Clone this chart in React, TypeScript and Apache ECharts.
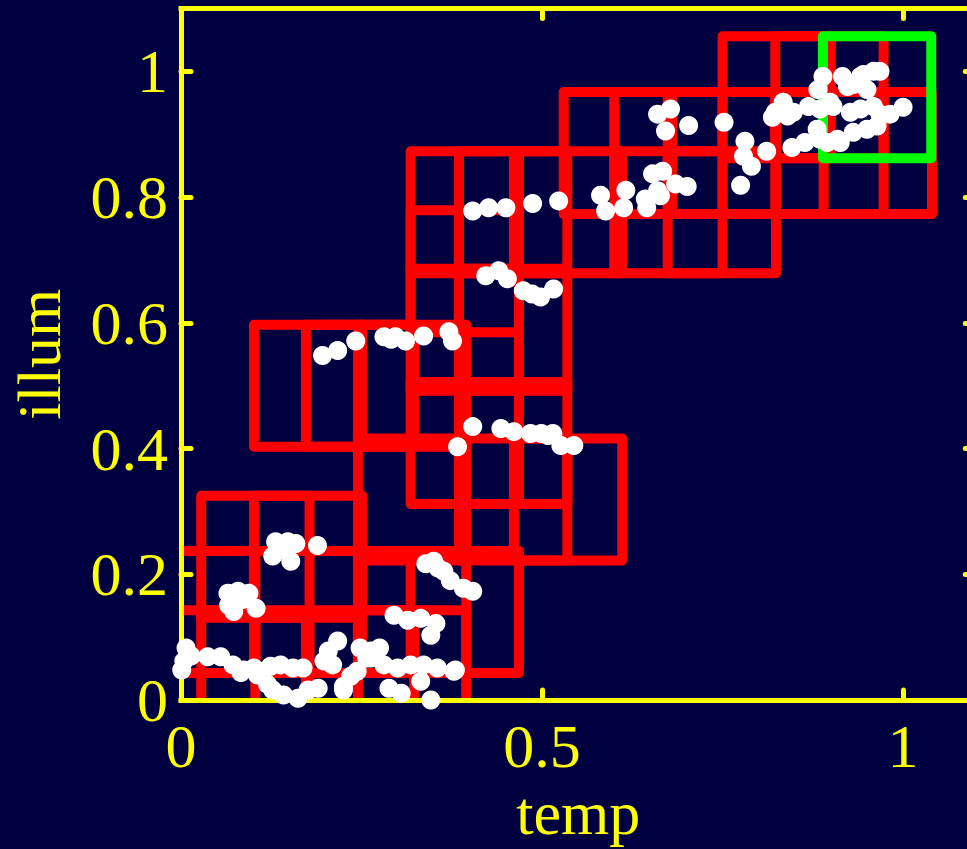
import React, { useEffect, useRef } from "react";
import * as echarts from "echarts";

// ---- axis content ----
const X_TICKS = [0, 0.5, 1];
const Y_TICKS = [0, 0.2, 0.4, 0.6, 0.8, 1];
const X_NAME = "temp";
const Y_NAME = "illum";
const X_MAX = 1.1;
const Y_MAX = 1.1;

// ---- boxes: lower-left corner [temp, illum]; all boxes share one size ----
const BOX_W = 0.15;
const BOX_H = 0.194;
const RED_BOXES: number[][] = [
  [0.75, 0.862], [0.823, 0.862],
  [0.53, 0.773], [0.6, 0.773], [0.674, 0.773], [0.823, 0.773], [0.89, 0.773],
  [0.318, 0.679], [0.385, 0.679], [0.461, 0.679], [0.6, 0.679], [0.674, 0.679],
  [0.318, 0.585],
  [0.318, 0.492], [0.385, 0.492],
  [0.101, 0.403], [0.173, 0.403], [0.245, 0.403],
  [0.318, 0.312], [0.385, 0.312],
  [0.245, 0.222], [0.385, 0.222], [0.461, 0.222],
  [0.028, 0.131], [0.101, 0.131],
  [-0.047, 0.043], [0.101, 0.043], [0.245, 0.043], [0.318, 0.043],
  [-0.047, -0.051], [0.028, -0.051], [0.173, -0.051], [0.245, -0.051],
];
const GREEN_BOXES: number[][] = [[0.889, 0.862]];

// ---- samples [temp, illum] ----
const DOTS_LOW: number[][] = [
  [0.007, 0.083], [0.004, 0.062], [0.001, 0.048], [0.014, 0.07], [0.037, 0.069],
  [0.055, 0.069], [0.072, 0.056], [0.087, 0.048], [0.101, 0.051], [0.113, 0.046],
  [0.124, 0.054], [0.138, 0.056], [0.155, 0.051], [0.169, 0.051], [0.127, 0.016],
  [0.142, 0.008], [0.162, 0.003], [0.176, 0.016], [0.19, 0.019], [0.225, 0.022],
  [0.235, 0.038], [0.21, 0.056], [0.198, 0.062], [0.204, 0.078], [0.217, 0.094],
  [0.248, 0.083], [0.263, 0.078], [0.275, 0.083], [0.244, 0.046], [0.281, 0.056],
  [0.3, 0.051], [0.318, 0.056], [0.336, 0.056], [0.355, 0.051], [0.378, 0.046],
  [0.38, 0.048], [0.288, 0.019], [0.305, 0.011], [0.346, 0.0], [0.263, 0.067],
  [0.332, 0.03], [0.083, 0.044], [0.106, 0.04], [0.12, 0.025], [0.257, 0.067],
  [0.225, 0.016],
];
const DOTS_MID: number[][] = [
  [0.065, 0.17], [0.079, 0.173], [0.094, 0.17], [0.066, 0.151], [0.073, 0.141], [0.104, 0.146], [0.085, 0.16],
  [0.131, 0.252], [0.148, 0.252], [0.159, 0.249], [0.127, 0.229], [0.152, 0.221], [0.189, 0.246], [0.14, 0.24],
  [0.339, 0.217], [0.35, 0.221], [0.364, 0.205], [0.373, 0.19], [0.391, 0.178], [0.404, 0.173], [0.356, 0.21],
  [0.295, 0.135], [0.314, 0.127], [0.332, 0.13], [0.353, 0.122], [0.346, 0.103],
  [0.196, 0.548], [0.217, 0.556], [0.242, 0.571], [0.281, 0.578], [0.297, 0.578],
  [0.311, 0.571], [0.336, 0.579], [0.371, 0.586], [0.376, 0.571], [0.291, 0.574],
  [0.404, 0.435], [0.383, 0.403], [0.443, 0.432], [0.461, 0.427], [0.484, 0.424],
  [0.499, 0.424], [0.515, 0.424], [0.526, 0.405], [0.544, 0.405], [0.508, 0.421],
];
const DOTS_HIGH: number[][] = [
  [0.422, 0.675], [0.44, 0.683], [0.452, 0.67], [0.474, 0.651], [0.498, 0.641], [0.516, 0.654], [0.486, 0.646],
  [0.404, 0.778], [0.426, 0.783], [0.45, 0.783], [0.487, 0.79], [0.523, 0.794],
  [0.581, 0.803], [0.588, 0.778], [0.616, 0.811], [0.613, 0.783], [0.643, 0.797], [0.645, 0.783],
  [0.653, 0.837], [0.667, 0.841], [0.664, 0.802], [0.685, 0.821], [0.701, 0.817], [0.66, 0.81],
  [0.66, 0.932], [0.678, 0.94], [0.671, 0.905], [0.703, 0.914], [0.752, 0.919],
  [0.781, 0.889], [0.779, 0.865], [0.79, 0.849], [0.775, 0.819], [0.811, 0.873],
  [0.823, 0.935], [0.834, 0.951], [0.848, 0.935], [0.869, 0.944], [0.885, 0.94], [0.903, 0.944],
  [0.882, 0.971], [0.889, 0.992], [0.916, 0.992], [0.941, 0.992], [0.959, 1.0], [0.968, 1.0],
  [0.923, 0.976], [0.95, 0.971], [0.846, 0.879], [0.864, 0.887], [0.885, 0.892], [0.913, 0.887],
  [0.881, 0.908], [0.931, 0.903], [0.95, 0.908], [0.964, 0.913], [0.968, 0.932], [0.982, 0.932],
  [1.0, 0.943], [0.927, 0.935], [0.941, 0.94], [0.959, 0.944], [0.819, 0.927], [0.84, 0.929],
  [0.895, 0.887], [0.909, 0.892], [0.899, 0.951], [0.945, 0.995], [0.931, 0.979],
];

const YELLOW = "#ffff00";
const BG = "#000040";
const FONT = "'Liberation Serif', 'Times New Roman', serif";

const isTick = (list: number[], v: number) => list.some((t) => Math.abs(t - v) < 1e-6);

function boxSeries(data: number[][], color: string, z: number) {
  return {
    type: "custom",
    data,
    clip: true,
    z,
    silent: true,
    encode: { x: 0, y: 1 },
    renderItem: (_params: any, api: any) => {
      const x0 = api.value(0);
      const y0 = api.value(1);
      const tl = api.coord([x0, y0 + BOX_H]);
      const br = api.coord([x0 + BOX_W, y0]);
      return {
        type: "rect",
        shape: { x: tl[0], y: tl[1], width: br[0] - tl[0], height: br[1] - tl[1] },
        style: { fill: "none", stroke: color, lineWidth: 10, lineJoin: "round" },
      };
    },
  };
}

function axisBase(max: number, interval: number) {
  return {
    type: "value",
    min: 0,
    max,
    interval,
    z: 3,
    splitLine: { show: false },
    axisLine: { show: true, onZero: false, lineStyle: { color: YELLOW, width: 5, cap: "square" } },
    axisTick: { show: true, inside: true, length: 10, lineStyle: { color: YELLOW, width: 5, cap: "round" } },
  };
}

export default function App() {
  const ref = useRef<HTMLDivElement>(null);

  useEffect(() => {
    if (!ref.current) return;
    const chart = echarts.init(ref.current, undefined, { renderer: "svg" });
    const labelStyle = { color: YELLOW, fontFamily: FONT, fontSize: 62 };
    chart.setOption({
      animation: false,
      backgroundColor: BG,
      grid: { left: 180, top: 8.5, width: 795.3, height: 694 },
      xAxis: [
        {
          ...axisBase(X_MAX, 0.5),
          position: "bottom",
          name: X_NAME,
          nameLocation: "middle",
          nameGap: 72,
          nameTextStyle: labelStyle,
          axisLabel: {
            ...labelStyle,
            margin: 15,
            showMaxLabel: false,
            formatter: (v: number) => (isTick(X_TICKS, v) ? String(v) : ""),
          },
        },
        {
          ...axisBase(X_MAX, 0.5),
          position: "top",
          axisLabel: { show: false },
        },
      ],
      yAxis: [
        {
          ...axisBase(Y_MAX, 0.2),
          position: "left",
          name: Y_NAME,
          nameLocation: "middle",
          nameGap: 111,
          nameTextStyle: labelStyle,
          axisLabel: {
            ...labelStyle,
            margin: 13,
            showMaxLabel: false,
            formatter: (v: number) => (isTick(Y_TICKS, v) ? String(v) : ""),
          },
        },
        {
          ...axisBase(Y_MAX, 0.2),
          position: "right",
          axisLabel: { show: false },
        },
      ],
      series: [
        boxSeries(RED_BOXES, "#ff0000", 2),
        boxSeries(GREEN_BOXES, "#00ff00", 4),
        {
          type: "scatter",
          data: [...DOTS_LOW, ...DOTS_MID, ...DOTS_HIGH],
          symbol: "circle",
          symbolSize: 19,
          clip: false,
          z: 6,
          silent: true,
          itemStyle: { color: "#ffffff", opacity: 1 },
        },
      ],
    });
    return () => chart.dispose();
  }, []);

  return (
    <div
      style={{
        position: "fixed",
        left: 0,
        top: 0,
        width: 967,
        height: 849,
        overflow: "hidden",
        background: BG,
      }}
    >
      <div ref={ref} style={{ width: 1000, height: 849 }} />
    </div>
  );
}
